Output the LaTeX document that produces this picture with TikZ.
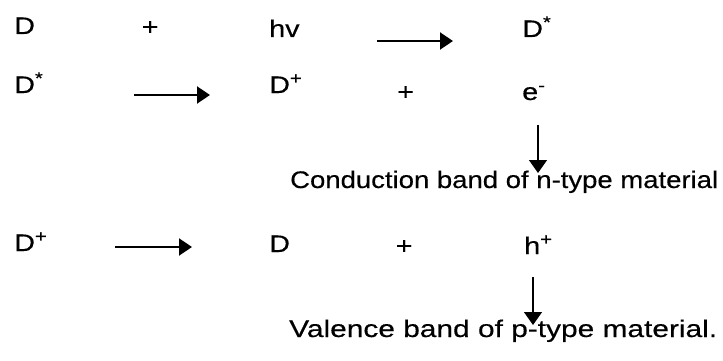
\documentclass[tikz,border=0pt]{standalone}
\usepackage{fontspec}
\usepackage{graphicx}
\setmainfont{Liberation Sans}[FakeStretch=1.2,FakeBold=0.4]
\usetikzlibrary{arrows.meta}
\tikzset{
  chem/.style={anchor=base west, inner sep=0pt, font=\fontsize{24}{28}\selectfont},
  rarrow/.style={line width=2pt, -{Triangle[length=13pt,width=17pt]}},
  darrow/.style={line width=1.3pt, -{Triangle[length=13pt,width=18pt]}}
}
\begin{document}
\begin{tikzpicture}[x=1pt,y=-1pt]
\useasboundingbox (0,0) rectangle (723,361);
% row 1
\node[chem] (d1) at (14,34) {D};
\node[chem] (p1) at (141.5,35) {+};
\node[chem] (hv) at (269,37) {hv};
\node[chem] (ds1) at (522,37) {D\textsuperscript{*}};
\coordinate (a1s) at (377,41);
\coordinate (a1e) at (453,41);
\draw[rarrow] (a1s) -- (a1e);
% row 2
\node[chem] (ds2) at (14,93) {D\textsuperscript{*}};
\node[chem] (dp2) at (269,93) {D\textsuperscript{+}};
\node[chem] (p2) at (397,100) {+};
\node[chem] (e) at (522,100) {e\textsuperscript{-}};
\coordinate (a2s) at (134,95);
\coordinate (a2e) at (210,95);
\draw[rarrow] (a2s) -- (a2e);
\coordinate (v1s) at (538,125);
\coordinate (v1e) at (538,173);
\draw[darrow] (v1s) -- (v1e);
\node[chem] (cb) at (290,188) {\resizebox{428pt}{\height}{Conduction band of n-type material}};
% row 3
\node[chem] (dp3) at (14,251) {D\textsuperscript{+}};
\node[chem] (d3) at (269,252) {D};
\node[chem] (p3) at (395.5,254) {+};
\node[chem] (h) at (524,254) {h\textsuperscript{+}};
\coordinate (a3s) at (115,247);
\coordinate (a3e) at (192,247);
\draw[rarrow] (a3s) -- (a3e);
\coordinate (v2s) at (533,277);
\coordinate (v2e) at (533,325);
\draw[darrow] (v2s) -- (v2e);
\node[chem] (vb) at (289,337) {\resizebox{428pt}{\height}{Valence band of p-type material.}};
\end{tikzpicture}
\end{document}
